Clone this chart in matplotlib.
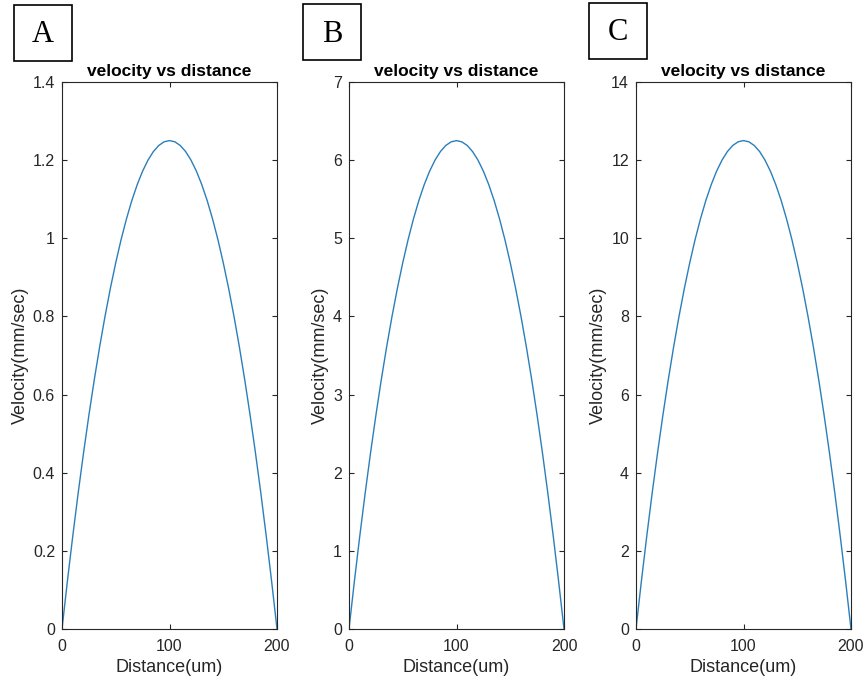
import matplotlib.pyplot as plt

# --- DATA ---
distance = [0, 5, 10, 15, 20, 25, 30, 35, 40, 45, 50, 55, 60, 65, 70, 75, 80, 85, 90, 95, 100,
            105, 110, 115, 120, 125, 130, 135, 140, 145, 150, 155, 160, 165, 170, 175, 180,
            185, 190, 195, 200]
velocity_a = [0, 0.122, 0.2375, 0.347, 0.45, 0.547, 0.6375, 0.722, 0.8, 0.872, 0.9375,
              0.997, 1.05, 1.097, 1.1375, 1.172, 1.2, 1.222, 1.2375, 1.247, 1.25,
              1.247, 1.2375, 1.222, 1.2, 1.172, 1.1375, 1.097, 1.05, 0.997, 0.9375,
              0.872, 0.8, 0.722, 0.6375, 0.547, 0.45, 0.347, 0.2375, 0.122, 0]
velocity_b = [0, 0.609, 1.1875, 1.734, 2.25, 2.734, 3.1875, 3.609, 4.0, 4.359, 4.6875,
              4.984, 5.25, 5.484, 5.6875, 5.859, 6.0, 6.109, 6.1875, 6.234, 6.25,
              6.234, 6.1875, 6.109, 6.0, 5.859, 5.6875, 5.484, 5.25, 4.984, 4.6875,
              4.359, 4.0, 3.609, 3.1875, 2.734, 2.25, 1.734, 1.1875, 0.609, 0]
velocity_c = [0, 1.22, 2.375, 3.47, 4.5, 5.47, 6.375, 7.22, 8.0, 8.72, 9.375,
              9.97, 10.5, 10.97, 11.375, 11.72, 12.0, 12.22, 12.375, 12.47, 12.5,
              12.47, 12.375, 12.22, 12.0, 11.72, 11.375, 10.97, 10.5, 9.97, 9.375,
              8.72, 8.0, 7.22, 6.375, 5.47, 4.5, 3.47, 2.375, 1.22, 0]

panel_labels = ['A', 'B', 'C']
y_limits = [1.4, 7, 14]
y_ticks = [
    [0, 0.2, 0.4, 0.6, 0.8, 1, 1.2, 1.4],
    [0, 1, 2, 3, 4, 5, 6, 7],
    [0, 2, 4, 6, 8, 10, 12, 14],
]
x_ticks = [0, 100, 200]

plt.rcParams['font.family'] = ['Liberation Sans', 'DejaVu Sans']

fig = plt.figure(figsize=(8.65, 6.86), dpi=100)

ax_lefts = [62, 349, 636]
box_pos = [(14, 5), (303, 4), (589, 3)]
series = [velocity_a, velocity_b, velocity_c]
grey = '#262626'

for i in range(3):
    ax = fig.add_axes([ax_lefts[i] / 865, 1 - 629 / 686, 215 / 865, 547 / 686])
    ax.plot(distance, series[i], color='#2a7fba', linewidth=1.0)
    ax.set_xlim(0, 200)
    ax.set_ylim(0, y_limits[i])
    ax.set_xticks(x_ticks)
    ax.set_yticks(y_ticks[i])
    ax.set_yticklabels([f'{t:g}' for t in y_ticks[i]])
    ax.tick_params(direction='in', length=3.5, colors=grey, labelsize=11.5,
                   top=True, right=True, labeltop=False, labelright=False)
    ax.tick_params(axis='x', pad=7)
    ax.tick_params(axis='y', pad=5)
    for sp in ax.spines.values():
        sp.set_color(grey)
        sp.set_linewidth(0.8)
    ax.set_title('velocity vs distance', fontsize=12.5, fontweight='bold', pad=4)
    ax.set_xlabel('Distance(um)', fontsize=13, color=grey, labelpad=4)
    ax.set_ylabel('Velocity(mm/sec)', fontsize=13, color=grey, labelpad=3)

    # panel letter box
    bx, by = box_pos[i]
    fig.text((bx + 29) / 865, 1 - (by + 30) / 686, panel_labels[i],
             fontsize=22, family='Liberation Serif', ha='center', va='center')
    rect = plt.Rectangle((bx / 865, 1 - (by + 56) / 686), 58 / 865, 56 / 686,
                         transform=fig.transFigure, fill=False, ec='black', lw=1.2)
    fig.add_artist(rect)

fig.savefig('out.png', dpi=100)
